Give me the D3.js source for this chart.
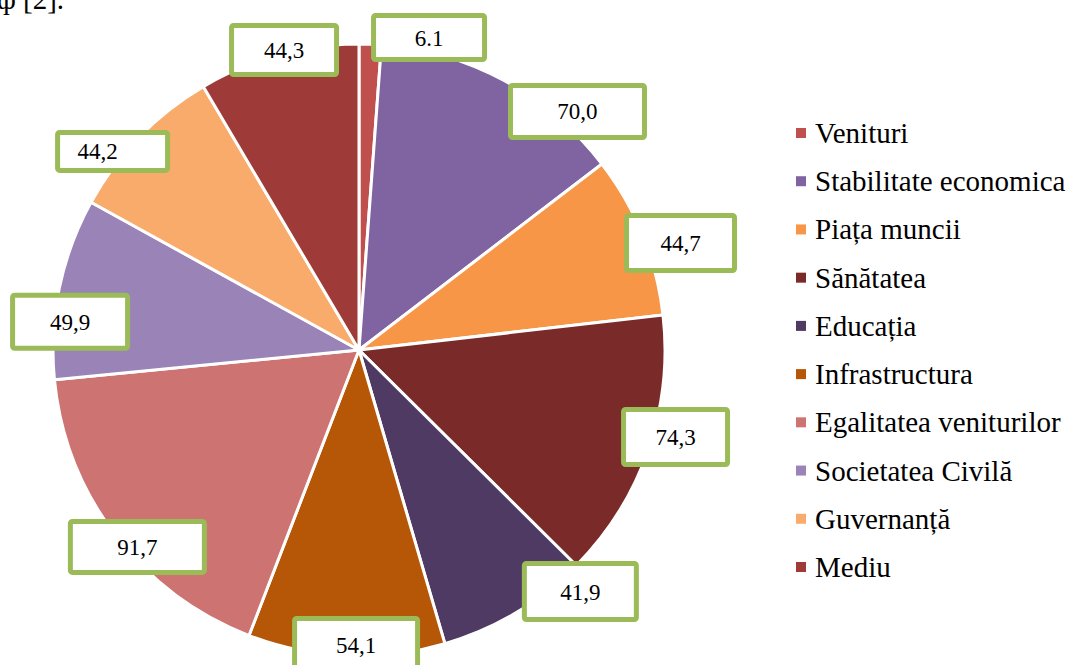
<!DOCTYPE html>
<html><head><meta charset="utf-8">
<script src="https://cdn.jsdelivr.net/npm/d3@7"></script>
<style>
html,body{margin:0;padding:0;background:#fff;}
svg{display:block;}
svg text{font-family:"Liberation Serif","Times New Roman",Times,"DejaVu Serif",serif;}
</style></head>
<body>
<svg id="chart" width="1068" height="665"></svg>
<script>
// ---- data ----
const categories = ["Venituri","Stabilitate economica","Piața muncii","Sănătatea","Educația","Infrastructura","Egalitatea veniturilor","Societatea Civilă","Guvernanță","Mediu"];
const values = [6.1, 70.0, 44.7, 74.3, 41.9, 54.1, 91.7, 49.9, 44.2, 44.3];
const valueLabels = ["6.1","70,0","44,7","74,3","41,9","54,1","91,7","49,9","44,2","44,3"];
const colors = ["#C0504D","#8064A2","#F79646","#7A2B29","#4E3A62","#B65708","#CD7371","#9A83B6","#F9AB6B","#9E3A38"];

// ---- layout (label box nudges relative to outer edge at mid-angle: dx, dy, w, h, textDx) ----
const labelLayout = [
  [58.8,-6.7,116,49,0],
  [73,30.7,139,57,0],
  [37.8,7.6,113,60,0],
  [27.4,-13.1,109,60,0],
  [64.8,-21.4,117,61,0],
  [9.8,-10.7,128,58,0],
  [21.9,11.6,139,56,0],
  [10.8,33.5,120,58,0],
  [-26.8,14.5,115,43,-15],
  [5.8,-4.8,110,54,0]
];

const svg = d3.select("#chart");
const cx = 359, cy = 350, R = 306;

// fragment of document text at top-left (cut by the page edge in the reference)
svg.append("text").attr("x", -3).attr("y", 9)
  .attr("font-size", 29).attr("fill", "#000")
  .text("ф [2].");

const pie = d3.pie().sort(null).value(d => d);
const arcs = pie(values);
const arc = d3.arc().innerRadius(0).outerRadius(R);

const g = svg.append("g").attr("transform", `translate(${cx},${cy})`);
g.selectAll("path.slice").data(arcs).join("path")
  .attr("class","slice")
  .attr("d", arc)
  .attr("fill", (d,i) => colors[i])
  .attr("stroke", "#fff")
  .attr("stroke-width", 3)
  .attr("stroke-linejoin", "round");

// labels
const lg = svg.append("g");
arcs.forEach((d,i) => {
  const mid = (d.startAngle + d.endAngle) / 2;
  const [dx, dy, w, h, tdx] = labelLayout[i];
  const x = cx + R * Math.sin(mid) + dx;
  const y = cy - R * Math.cos(mid) + dy;
  lg.append("rect")
    .attr("x", x - w/2 + 2.5).attr("y", y - h/2 + 2.5)
    .attr("width", w - 5).attr("height", h - 5)
    .attr("rx", 2).attr("fill", "#fff")
    .attr("stroke", "#9BBB59").attr("stroke-width", 5);
  lg.append("text")
    .attr("x", x + tdx).attr("y", y + 8)
    .attr("text-anchor", "middle")
    .attr("font-size", 23).attr("fill", "#000")
    .text(valueLabels[i]);
});

// legend
const leg = svg.append("g");
const legY = d3.scalePoint().domain(categories).range([133, 567]);
categories.forEach((c,i) => {
  const y = legY(c);
  leg.append("rect").attr("x", 796).attr("y", y - 5).attr("width", 10).attr("height", 10)
    .attr("fill", colors[i]);
  leg.append("text").attr("x", 815).attr("y", y + 10)
    .attr("font-size", 29).attr("fill", "#000")
    .text(c);
});
</script>
</body></html>
